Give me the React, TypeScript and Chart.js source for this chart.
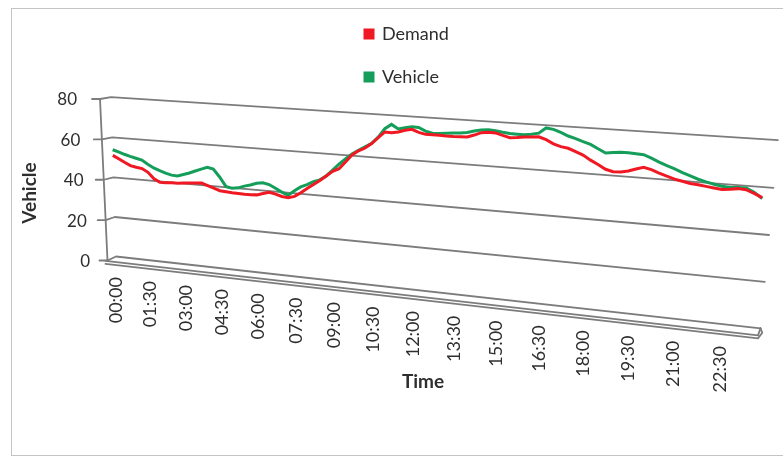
import { useEffect, useRef } from "react";
import { Chart, registerables } from "chart.js";

Chart.register(...registerables);

// Quarter-hour categories across one day
const quarterHours: string[] = [];
for (let h = 0; h < 24; h++) {
  for (const m of ["00", "15", "30", "45"]) {
    quarterHours.push(`${String(h).padStart(2, "0")}:${m}`);
  }
}

const timeTickLabels = [
  "00:00", "01:30", "03:00", "04:30", "06:00", "07:30", "09:00", "10:30",
  "12:00", "13:30", "15:00", "16:30", "18:00", "19:30", "21:00", "22:30",
];

const demand = [
  51, 49.5, 48, 46.6, 46, 45.6, 44, 41, 39.5, 39.6,
  39.8, 39.9, 40.2, 40.5, 40.8, 41, 40, 39, 38, 37.8,
  37.6, 37.5, 37.4, 37.4, 37.6, 38.5, 39.4, 38.8, 37.9, 37.6,
  38.5, 40.5, 42.8, 44.9, 47.1, 49.5, 51.9, 53.4, 56.8, 60.3,
  62.5, 64, 66.3, 69.3, 72.1, 72, 72.5, 73.5, 74.2, 73,
  72.3, 72.3, 72.3, 72.2, 72.2, 72.3, 72.4, 73.5, 74.8, 75.2,
  75.1, 74.2, 73.4, 73.7, 74.1, 74.4, 74.7, 73.6, 72, 71,
  70.5, 69.3, 68, 66, 64.3, 62.5, 61.7, 61.8, 62.5, 63.6,
  64.6, 63.8, 62.6, 61.5, 60.5, 59.8, 59.1, 58.8, 58.4, 58,
  57.6, 58, 58.5, 58.3, 57, 55.5,
];

const vehicle = [
  53.8, 53, 52, 51.2, 50.5, 49.8, 48, 46.4, 45.3, 44.3,
  43.6, 43.4, 44.4, 45.4, 46.6, 47.8, 48.9, 48.3, 44.7, 40.4,
  39.7, 40.2, 41.3, 42.1, 43.2, 43.7, 43.1, 41.6, 40, 38.8,
  41.2, 43.3, 44.6, 46.3, 47.4, 49.5, 52.5, 55.5, 58.2, 60.8,
  62.7, 64.6, 66.4, 69.5, 73.6, 75.8, 73.9, 74.7, 75.3, 75.2,
  73.8, 73, 73.1, 73.5, 73.8, 74, 74.4, 75.3, 76, 76.3,
  76.1, 75.6, 75.3, 75.2, 75.1, 75.6, 76.3, 78.8, 78.4, 77.3,
  75.9, 75, 73.9, 72.9, 71.2, 69.6, 70, 70.4, 70.4, 70.2,
  70, 68.8, 67.3, 66, 64.9, 63.5, 62.4, 61.2, 60.3, 59.6,
  59, 58.7, 59, 59, 57.5, 55.1,
];

const valueMin = 0;
const valueMax = 80;
const valueStep = 20;

const RED = "#F01822";
const GREEN = "#149E5A";
const GRID = "#7c7c7c";
const TEXT = "#2e2e2e";
const FONT = "Lato, 'Open Sans', sans-serif";

type Pt = [number, number];

// Perspective box: the back wall is a projective image of the unit square
// (u = category position, v = value fraction).
const WALL_00: Pt = [116, 256.5];
const WALL_10: Pt = [760.5, 328.3];
const WALL_11: Pt = [763, 139.2];
const WALL_01: Pt = [111, 97.2];
const WALL_OVERHANG = 0.019;
const AXIS_TOP: Pt = [100, 99];
const AXIS_BOTTOM: Pt = [107.5, 260.5];
const FLOOR_FRONT_L: Pt = [105.5, 260.8];
const FLOOR_FRONT_R: Pt = [758, 335.4];
const SLAB = 3;
const TICK_LEN = 8;
const CATEGORY_LABEL_GAP = 15;

function quadMap(p0: Pt, p1: Pt, p2: Pt, p3: Pt) {
  const [x0, y0] = p0, [x1, y1] = p1, [x2, y2] = p2, [x3, y3] = p3;
  const dx1 = x1 - x2, dx2 = x3 - x2, dx3 = x0 - x1 + x2 - x3;
  const dy1 = y1 - y2, dy2 = y3 - y2, dy3 = y0 - y1 + y2 - y3;
  const den = dx1 * dy2 - dy1 * dx2;
  const g = (dx3 * dy2 - dy3 * dx2) / den;
  const h = (dx1 * dy3 - dy1 * dx3) / den;
  const a = x1 - x0 + g * x1, b = x3 - x0 + h * x3, c = x0;
  const d = y1 - y0 + g * y1, e = y3 - y0 + h * y3, f = y0;
  return (u: number, v: number): Pt => {
    const w = g * u + h * v + 1;
    return [(a * u + b * v + c) / w, (d * u + e * v + f) / w];
  };
}

const wall = quadMap(WALL_00, WALL_10, WALL_11, WALL_01);

const lerp = (p: Pt, q: Pt, t: number): Pt => [p[0] + (q[0] - p[0]) * t, p[1] + (q[1] - p[1]) * t];

function polyline(ctx: CanvasRenderingContext2D, pts: Pt[]) {
  ctx.beginPath();
  ctx.moveTo(pts[0][0], pts[0][1]);
  for (let i = 1; i < pts.length; i++) ctx.lineTo(pts[i][0], pts[i][1]);
  ctx.stroke();
}

const perspectivePlugin = {
  id: "perspectiveBox",
  afterDatasetsUpdate(chart: any) {
    const area = chart.chartArea;
    chart.data.datasets.forEach((_: unknown, i: number) => {
      const meta = chart.getDatasetMeta(i);
      for (const pt of meta.data as any[]) {
        const u = (pt.x - area.left) / (area.right - area.left);
        const v = (area.bottom - pt.y) / (area.bottom - area.top);
        const [x, y] = wall(u, v);
        pt.x = x;
        pt.y = y;
      }
    });
  },
  beforeDatasetsDraw(chart: any) {
    const ctx: CanvasRenderingContext2D = chart.ctx;
    const area = chart.chartArea;
    const xs = chart.scales.x;
    const ys = chart.scales.y;
    const uOf = (px: number) => (px - area.left) / (area.right - area.left);
    const vOf = (py: number) => (area.bottom - py) / (area.bottom - area.top);

    ctx.save();

    // outer frame
    ctx.strokeStyle = "#c4c4c4";
    ctx.lineWidth = 1;
    ctx.strokeRect(11.5, 8.5, 800, 447);

    ctx.strokeStyle = GRID;
    ctx.lineWidth = 1.8;
    ctx.lineJoin = "round";
    ctx.lineCap = "round";

    // front value axis
    polyline(ctx, [AXIS_TOP, AXIS_BOTTOM]);

    // value gridlines: tick, side wall, back wall
    ctx.fillStyle = TEXT;
    ctx.font = `17px ${FONT}`;
    ctx.textAlign = "right";
    ctx.textBaseline = "middle";
    for (const t of ys.ticks) {
      const v = vOf(ys.getPixelForValue(t.value));
      const a = lerp(AXIS_BOTTOM, AXIS_TOP, v);
      const back = wall(0, v);
      const end = wall(1 + WALL_OVERHANG * v, v);
      polyline(ctx, [[a[0] - TICK_LEN, a[1]], a, back, end]);
      ctx.fillText(String(t.value), 90 - 13 * v, a[1] + 1);
    }

    // floor slab front and right end
    const br = wall(1, 0);
    const frB: Pt = [FLOOR_FRONT_R[0], FLOOR_FRONT_R[1] + SLAB];
    polyline(ctx, [AXIS_BOTTOM, FLOOR_FRONT_L, FLOOR_FRONT_R, br]);
    polyline(ctx, [[FLOOR_FRONT_L[0], FLOOR_FRONT_L[1] + SLAB], frB, [br[0] + 1.8, br[1] + 4.5], br]);

    // category labels along the front edge of the floor
    ctx.font = `18px ${FONT}`;
    ctx.textAlign = "right";
    ctx.textBaseline = "middle";
    for (const label of timeTickLabels) {
      const idx = quarterHours.indexOf(label);
      const u = uOf(xs.getPixelForValue(idx));
      const [x] = wall(u, 0);
      const t = (x - FLOOR_FRONT_L[0]) / (FLOOR_FRONT_R[0] - FLOOR_FRONT_L[0]);
      const yEdge = FLOOR_FRONT_L[1] + t * (FLOOR_FRONT_R[1] - FLOOR_FRONT_L[1]);
      ctx.save();
      ctx.translate(x, yEdge + CATEGORY_LABEL_GAP);
      ctx.rotate(-Math.PI / 2);
      ctx.fillText(label, 0, 0);
      ctx.restore();
    }

    // axis titles
    ctx.font = `bold 19px ${FONT}`;
    ctx.textAlign = "center";
    ctx.textBaseline = "middle";
    ctx.fillText("Time", 423, 382);
    ctx.save();
    ctx.translate(30, 193);
    ctx.rotate(-Math.PI / 2);
    ctx.fillText("Vehicle", 0, 0);
    ctx.restore();

    ctx.restore();
  },
};

export default function App() {
  const canvasRef = useRef<HTMLCanvasElement>(null);

  useEffect(() => {
    const canvas = canvasRef.current;
    if (!canvas) return;
    const chart = new Chart(canvas, {
      type: "line",
      data: {
        labels: quarterHours,
        datasets: [
          {
            label: "Demand",
            data: demand,
            borderColor: RED,
            backgroundColor: RED,
            borderWidth: 3,
            pointRadius: 0,
            tension: 0,
            fill: false,
            clip: false as any,
          },
          {
            label: "Vehicle",
            data: vehicle,
            borderColor: GREEN,
            backgroundColor: GREEN,
            borderWidth: 3,
            pointRadius: 0,
            tension: 0,
            fill: false,
            clip: false as any,
          },
        ],
      },
      options: {
        responsive: false,
        animation: false,
        devicePixelRatio: 1,
        events: [],
        layout: { padding: { left: 340, right: 290, top: 0, bottom: 20 } },
        scales: {
          x: { type: "category", display: false },
          y: {
            display: false,
            min: valueMin,
            max: valueMax,
            ticks: { stepSize: valueStep },
          },
        },
        plugins: {
          tooltip: { enabled: false },
          legend: {
            position: "top",
            align: "start",
            labels: {
              boxWidth: 8,
              boxHeight: 8,
              padding: 25,
              color: TEXT,
              font: { family: FONT, size: 18 },
            },
          },
        },
      },
      plugins: [perspectivePlugin as any],
    });
    return () => chart.destroy();
  }, []);

  return (
    <div style={{ position: "absolute", left: 0, top: 0, width: 783, height: 460, background: "#ffffff" }}>
      <canvas ref={canvasRef} width={783} height={460} style={{ display: "block", width: 783, height: 460 }} />
    </div>
  );
}
